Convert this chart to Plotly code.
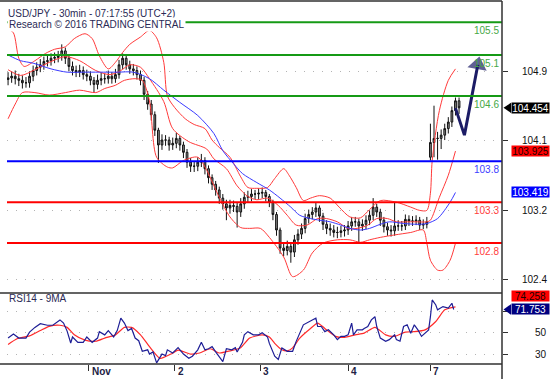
import math
import plotly.graph_objects as go

# ---------------- DATA ----------------
# x = index of 30-minute bar (hourly candles drawn)
bar_x = list(range(0, 254, 2))
opens = [104.80,104.82,104.84,104.81,104.79,104.76,104.76,104.84,104.91,104.95,
104.98,105.02,105.03,105.06,105.07,105.09,105.15,105.06,104.96,104.91,
104.89,104.91,104.86,104.84,104.79,104.74,104.79,104.81,104.81,104.84,
104.81,104.86,104.98,105.06,104.98,104.93,104.91,104.86,104.79,104.62,
104.50,104.37,104.18,104.00,104.06,104.06,104.00,104.02,104.08,104.00,
103.91,103.79,103.74,103.74,103.79,103.81,103.71,103.60,103.52,103.45,
103.35,103.28,103.23,103.26,103.25,103.18,103.28,103.36,103.37,103.40,
103.40,103.41,103.42,103.37,103.30,103.15,102.96,102.74,102.71,102.76,
102.69,102.84,102.91,102.98,103.10,103.15,103.18,103.23,103.13,103.03,
102.98,102.96,102.93,102.93,102.95,102.96,103.01,103.06,103.06,103.01,
103.03,103.08,103.14,103.24,103.18,103.08,103.00,102.96,102.95,103.01,
103.01,103.01,103.09,103.07,103.07,103.08,103.02,103.03,103.85,104.03,
104.08,104.08,104.12,104.20,104.28,104.42,104.54]
highs = [104.89,104.90,104.91,104.87,104.85,104.83,104.90,104.97,105.01,105.05,
105.08,105.10,105.12,105.13,105.15,105.23,105.19,105.10,105.02,104.97,
104.98,104.96,104.92,104.90,104.83,104.86,104.88,104.87,104.91,104.89,
104.93,105.04,105.12,105.10,105.03,104.99,104.96,104.91,104.83,104.66,
104.55,104.41,104.21,104.13,104.12,104.10,104.09,104.15,104.11,104.04,
103.95,103.84,103.80,103.85,103.89,103.85,103.75,103.64,103.56,103.49,
103.40,103.33,103.33,103.32,103.30,103.35,103.42,103.44,103.46,103.45,
103.47,103.48,103.45,103.40,103.33,103.18,102.99,102.81,102.83,102.80,
102.90,102.97,103.04,103.16,103.21,103.24,103.29,103.26,103.17,103.08,
103.04,103.02,103.00,103.01,103.02,103.07,103.12,103.12,103.10,103.09,
103.14,103.20,103.35,103.28,103.22,103.12,103.05,103.02,103.30,103.08,
103.07,103.15,103.14,103.13,103.14,103.12,103.09,103.12,104.26,104.48,
104.16,104.19,104.26,104.34,104.47,104.58,104.58]
lows = [104.73,104.76,104.74,104.72,104.69,104.70,104.70,104.78,104.85,104.89,
104.92,104.96,104.97,105.00,105.01,105.03,104.99,104.90,104.85,104.83,
104.83,104.80,104.78,104.73,104.64,104.68,104.73,104.75,104.75,104.75,
104.76,104.81,104.93,104.92,104.87,104.85,104.80,104.73,104.55,104.43,
104.30,104.11,103.78,103.94,103.99,103.93,103.94,103.96,103.93,103.84,
103.72,103.67,103.67,103.68,103.73,103.64,103.53,103.45,103.38,103.28,
103.21,103.08,103.16,103.18,102.99,103.12,103.22,103.30,103.31,103.34,
103.34,103.35,103.31,103.24,103.08,102.89,102.67,102.64,102.65,102.56,
102.63,102.78,102.85,102.92,103.04,103.09,103.12,103.06,102.96,102.91,
102.89,102.87,102.86,102.87,102.88,102.90,102.95,103.00,102.81,102.95,
102.97,103.02,103.08,103.12,103.01,102.93,102.89,102.88,102.89,102.95,
102.95,102.96,103.01,103.01,103.02,102.96,102.97,102.98,103.81,103.85,
103.82,103.95,104.06,104.14,104.22,104.36,104.38]
closes = [104.82,104.84,104.81,104.79,104.76,104.76,104.84,104.91,104.95,104.98,
105.02,105.03,105.06,105.07,105.09,105.15,105.06,104.96,104.91,104.89,
104.91,104.86,104.84,104.79,104.74,104.79,104.81,104.81,104.84,104.81,
104.86,104.98,105.06,104.98,104.93,104.91,104.86,104.79,104.62,104.50,
104.37,104.18,104.00,104.06,104.06,104.00,104.02,104.08,104.00,103.91,
103.79,103.74,103.74,103.79,103.81,103.71,103.60,103.52,103.45,103.35,
103.28,103.23,103.26,103.25,103.18,103.28,103.36,103.37,103.40,103.40,
103.41,103.42,103.37,103.30,103.15,102.96,102.74,102.71,102.76,102.69,
102.84,102.91,102.98,103.10,103.15,103.18,103.23,103.13,103.03,102.98,
102.96,102.93,102.93,102.95,102.96,103.01,103.06,103.06,103.01,103.03,
103.08,103.14,103.24,103.18,103.08,103.00,102.96,102.95,103.01,103.01,
103.01,103.09,103.07,103.07,103.08,103.02,103.03,103.06,104.03,104.08,
104.08,104.12,104.20,104.28,104.42,104.54,104.454]

# Bollinger bands (upper / middle / lower) and long moving average
upper_x = [0,3,6,9,15,21,26,32,37,43,47,51,56,60,64,68,74,79,83,87,89,93,99,104,110,114,118,124,130,134,139,145,149,154,157,161,165,169,174,180,185,191,197,202,208,217,225,230,234,236,237,241,246,250]
upper_y = [105.42,105.37,105.06,104.96,105.03,105.12,105.17,105.20,105.30,105.36,105.30,105.09,104.93,105.01,105.13,105.23,105.32,105.40,105.31,105.01,104.60,104.46,104.32,104.25,104.20,104.06,103.97,103.85,103.61,103.48,103.47,103.48,103.59,103.71,103.63,103.48,103.32,103.35,103.38,103.35,103.24,103.12,103.11,103.21,103.32,103.30,103.24,103.20,103.20,103.41,103.81,104.42,104.79,104.93]
mid_x = [0,7,15,23,32,40,49,57,63,68,74,79,87,92,101,111,115,122,128,134,139,145,151,156,161,167,173,178,184,190,195,201,206,212,217,223,228,234,236,241,246,250]
mid_y = [104.92,104.85,104.92,105.01,105.08,105.03,104.91,104.86,104.91,104.98,104.95,104.81,104.53,104.20,104.04,103.95,103.83,103.71,103.50,103.37,103.33,103.35,103.26,103.14,103.02,103.02,103.10,103.10,103.06,102.98,102.98,103.02,103.10,103.10,103.06,103.06,103.06,103.06,103.08,103.36,103.63,103.925]
lower_x = [0,4,8,15,23,32,40,49,54,60,65,71,75,79,83,89,92,98,106,111,118,124,130,135,141,146,154,159,165,170,176,184,191,197,202,208,216,225,232,234,236,240,243,247,250]
lower_y = [104.32,104.50,104.64,104.64,104.61,104.64,104.67,104.64,104.69,104.73,104.79,104.81,104.79,104.54,103.85,103.73,103.72,103.81,103.85,103.69,103.36,103.12,102.99,102.98,102.98,102.87,102.63,102.39,102.47,102.68,102.80,102.84,102.84,102.81,102.84,102.87,102.90,102.93,102.96,102.80,102.59,102.47,102.47,102.59,102.80]
ma_x = [0,7,14,24,33,42,51,61,70,79,87,96,106,115,120,126,131,139,146,152,158,163,169,174,180,186,191,197,202,208,213,221,229,234,240,247,250]
ma_y = [105.10,105.03,105.00,104.93,104.89,104.89,104.89,104.89,104.89,104.81,104.67,104.52,104.36,104.14,103.93,103.77,103.65,103.54,103.45,103.35,103.24,103.14,103.10,103.08,103.06,103.02,102.98,102.96,102.98,103.03,103.06,103.04,103.03,103.04,103.10,103.30,103.419]

# RSI(14) and its 9-period MA
rsi_x = [0,3,6,10,12,15,18,22,25,29,31,33,35,36,39,42,44,47,50,51,54,56,59,61,63,65,67,69,71,73,75,78,79,81,83,86,88,89,92,95,98,101,103,106,108,110,112,114,116,117,120,122,125,127,128,131,132,134,137,140,142,145,146,149,151,153,156,159,161,165,168,170,172,173,175,177,179,182,184,186,188,190,192,193,195,198,199,201,203,205,206,208,211,213,216,217,219,221,223,225,227,229,231,233,235,236,237,239,240,243,246,248,249]
rsi_y = [45,48.8,45,45,50.6,55,58.4,57,57,62,59,51.5,40.4,46,41,41,46,41,45,51,48,52,46,52,63.6,59,52,54,45,42.5,32.6,34,30,32,21.8,30,28.5,34,31,36,30,26,28,34,41,34,35,37,32,30,23,35,34,36,32,41,48,51,48,48,50,46,40,28,25,35.8,32.6,32.6,41.9,57.4,60.5,62,63.6,55.8,55.8,51,52.7,48,43.5,46.6,46.6,48,59,48,52.7,52.7,54,55.8,62,65,55.8,45,42,43.5,48,43.5,42,55.8,57.4,49.6,57.4,52.7,46.6,49.6,52.7,65,80.7,76,71.4,74.5,73,77.6,71.753]
rsima_x = [0,5,12,18,23,29,33,37,43,49,54,60,65,69,74,79,85,91,95,102,107,113,118,124,130,135,142,146,149,153,156,159,163,169,173,177,183,188,194,199,205,211,216,222,227,233,239,244,250]
rsima_y = [39,44.4,47,52,56,57,55,48,43,42,45,48,55,55,48,37,26,30,33.7,30,31,35,31,33,36,45,48,46,40,34,33,35.8,45,54,59,54,46.6,45.6,48,49.6,55,48,46.6,50.6,51,52.7,60.5,71.4,74.258]

# Key levels
level_values = [105.5, 105.1, 104.6, 103.8, 103.3, 102.8]
level_kinds = ["res", "res", "res", "pivot", "sup", "sup"]

# Forecast arrow path (target = 105.1 resistance)
forecast_x = [250, 255, 262.5]
forecast_y = [104.45, 104.12, 104.98]

# Axis ticks
price_ticks = [104.9, 104.05, 103.2, 102.35]
price_tick_text = ["104.9", "104.1", "103.2", "102.4"]
rsi_ticks = [70, 50, 30]
rsi_tick_text = ["", "50", "30"]
day_starts = [45, 93, 141, 190, 236]
day_labels = ["Nov", "2", "3", "4", "7"]

# ---------------- STYLE ----------------
FONT = "Liberation Sans, Arial, sans-serif"
TXT = "#2a2a55"
kind_color = {"res": "#159a15", "pivot": "#0000ff", "sup": "#ff0000"}
kind_text = {"res": "#45a845", "pivot": "#3c3cff", "sup": "#ff3c3c"}

W, H = 557, 379
L, R, T, B = 7, 55, 1, 15
pw, ph = W - L - R, H - T - B
split = 71 / ph
XR = [-0.6, 276]
YR = [102.19, 105.76]

def px_x(p):
    return (p - L) / pw

def px_y(p):
    return (H - B - p) / ph

fig = go.Figure()

fig.add_trace(go.Candlestick(
    x=bar_x, open=opens, high=highs, low=lows, close=closes,
    increasing=dict(line=dict(color="#111111", width=1), fillcolor="#8c8c8c"),
    decreasing=dict(line=dict(color="#111111", width=1), fillcolor="#8c8c8c"),
    whiskerwidth=0, xaxis="x", yaxis="y", showlegend=False, hoverinfo="skip"))

for xs, ys, col in [(upper_x, upper_y, "#ff3a3a"), (mid_x, mid_y, "#ff3a3a"),
                    (lower_x, lower_y, "#ff3a3a"), (ma_x, ma_y, "#3a3aff")]:
    fig.add_trace(go.Scatter(x=xs, y=ys, mode="lines", line=dict(color=col, width=1, shape="spline", smoothing=0.8),
                             xaxis="x", yaxis="y", showlegend=False, hoverinfo="skip"))

# forecast arrow: direction of last segment in screen space gives the head rotation
sx = pw / (XR[1] - XR[0])
sy = (ph * (1 - split)) / (YR[1] - YR[0])
ddx = (forecast_x[-1] - forecast_x[-2]) * sx
ddy = (forecast_y[-1] - forecast_y[-2]) * sy
head_angle = math.degrees(math.atan2(ddx, ddy))
fig.add_trace(go.Scatter(x=forecast_x, y=forecast_y, mode="lines+markers",
                         line=dict(color="#1c1c66", width=3),
                         marker=dict(symbol="triangle-up", size=[0, 0, 17], angle=[0, 0, head_angle],
                                     color="#1c1c66", line=dict(width=0)),
                         xaxis="x", yaxis="y", showlegend=False, hoverinfo="skip"))

fig.add_trace(go.Scatter(x=rsima_x, y=rsima_y, mode="lines", line=dict(color="#ff2a2a", width=1.2, shape="spline", smoothing=0.6),
                         xaxis="x2", yaxis="y2", showlegend=False, hoverinfo="skip"))
fig.add_trace(go.Scatter(x=rsi_x, y=rsi_y, mode="lines", line=dict(color="#1e1e96", width=1.2),
                         xaxis="x2", yaxis="y2", showlegend=False, hoverinfo="skip"))

shapes = []
for v, k in zip(level_values, level_kinds):
    shapes.append(dict(type="line", xref="paper", yref="y", x0=0, x1=1, y0=v, y1=v,
                       line=dict(color=kind_color[k], width=2), layer="above"))
frame = "#303030"
shapes += [
    dict(type="line", xref="paper", yref="paper", x0=px_x(0), x1=1, y0=1, y1=1, line=dict(color=frame, width=1.5)),
    dict(type="line", xref="paper", yref="paper", x0=px_x(0), x1=1, y0=split, y1=split, line=dict(color=frame, width=1.5)),
    dict(type="line", xref="paper", yref="paper", x0=px_x(0), x1=1, y0=0, y1=0, line=dict(color=frame, width=1.5)),
    dict(type="line", xref="paper", yref="paper", x0=1, x1=1, y0=px_y(H), y1=1, line=dict(color=frame, width=1.5)),
]
last_price = closes[-1]
last_rsi = rsi_y[-1]
shapes.append(dict(type="path", xref="paper", yref="y",
                   path=f"M {px_x(503.5)} {last_price} L {px_x(511)} {last_price + 0.062} L {px_x(511)} {last_price - 0.062} Z",
                   fillcolor="#000000", line=dict(width=0)))
shapes.append(dict(type="path", xref="paper", yref="y2",
                   path=f"M {px_x(503.5)} {last_rsi} L {px_x(511)} {last_rsi + 5} L {px_x(511)} {last_rsi - 5} Z",
                   fillcolor="#000080", line=dict(width=0)))

ann = []
ann.append(dict(text="USD/JPY - 30min - 07:17:55 (UTC+2)", xref="paper", yref="paper", x=0, y=px_y(13),
                xanchor="left", yanchor="middle", showarrow=False, font=dict(family=FONT, size=10, color=TXT),
                bgcolor="white", borderpad=0))
ann.append(dict(text="Research © 2016 TRADING CENTRAL", xref="paper", yref="paper", x=0, y=px_y(24.5),
                xanchor="left", yanchor="middle", showarrow=False, font=dict(family=FONT, size=10, color=TXT),
                bgcolor="white", borderpad=1))
ann.append(dict(text="RSI14 - 9MA", xref="paper", yref="paper", x=0, y=px_y(298.5),
                xanchor="left", yanchor="middle", showarrow=False, font=dict(family=FONT, size=10, color=TXT)))
for v, k in zip(level_values, level_kinds):
    ann.append(dict(text=f"{v:.1f}", xref="paper", yref="y", x=px_x(500.5), y=v, yshift=-1,
                    xanchor="right", yanchor="top", showarrow=False,
                    font=dict(family=FONT, size=10, color=kind_text[k])))
for v, t in zip(price_ticks, price_tick_text):
    ann.append(dict(text=t, xref="paper", yref="y", x=px_x(549), y=v, xanchor="right", yanchor="middle",
                    showarrow=False, font=dict(family=FONT, size=10, color="#111111")))
for v, t in zip(rsi_ticks, rsi_tick_text):
    if t:
        ann.append(dict(text=t, xref="paper", yref="y2", x=px_x(549), y=v, xanchor="right", yanchor="middle",
                        showarrow=False, font=dict(family=FONT, size=10, color="#111111")))
boxes = [
    ("y", last_price, f"{last_price:.3f}", "#000000", "#ffffff", 0),
    ("y", mid_y[-1], f"{mid_y[-1]:.3f}", "#ff0000", "#220000", 0),
    ("y", ma_y[-1], f"{ma_y[-1]:.3f}", "#0000ff", "#ffffff", 0),
    ("y2", rsima_y[-1], f"{rsima_y[-1]:.3f}", "#ff0000", "#220000", 11),
    ("y2", last_rsi, f"{last_rsi:.3f}", "#000080", "#ffffff", 0),
]
for yr, v, t, bg, fg, sh in boxes:
    ann.append(dict(text=t, xref="paper", yref=yr, x=px_x(550), y=v, yshift=sh, xanchor="right", yanchor="middle",
                    showarrow=False, bgcolor=bg, width=37, height=10, borderpad=0,
                    font=dict(family=FONT, size=10, color=fg)))
for d, t in zip(day_starts, day_labels):
    ann.append(dict(text=f"<b>{t}</b>", xref="x2", yref="paper", x=d, y=0, xshift=1, yshift=-7,
                    xanchor="left", yanchor="middle", showarrow=False,
                    font=dict(family=FONT, size=10, color="#222244")))

grid = "#b4b4b4"
fig.update_layout(
    width=W, height=H, margin=dict(l=L, r=R, t=T, b=B),
    paper_bgcolor="white", plot_bgcolor="white",
    shapes=shapes, annotations=ann, showlegend=False,
    xaxis=dict(domain=[0, 1], range=XR, anchor="y", showticklabels=False, showgrid=False,
               zeroline=False, rangeslider=dict(visible=False), showline=False, ticks=""),
    xaxis2=dict(domain=[0, 1], range=XR, anchor="y2", tickvals=day_starts, ticks="outside",
                ticklen=6, tickwidth=1, tickcolor="#303030", showticklabels=False, showgrid=False,
                zeroline=False, showline=False),
    yaxis=dict(domain=[split, 1], range=YR, anchor="x", side="right", tickvals=price_ticks,
               ticks="outside", ticklen=5, tickcolor="#303030", showticklabels=False, showgrid=True,
               gridcolor=grid, griddash="1px,8px", zeroline=False, showline=False),
    yaxis2=dict(domain=[0, split], range=[20.7, 87.2], anchor="x2", side="right", tickvals=rsi_ticks,
                ticks="outside", ticklen=5, tickcolor="#303030", showticklabels=False, showgrid=True,
                gridcolor=grid, griddash="1px,8px", zeroline=False, showline=False),
)

fig.write_html("out.html", config={"displayModeBar": False},
               post_script="document.body.style.margin='0';document.body.style.overflow='hidden';")
